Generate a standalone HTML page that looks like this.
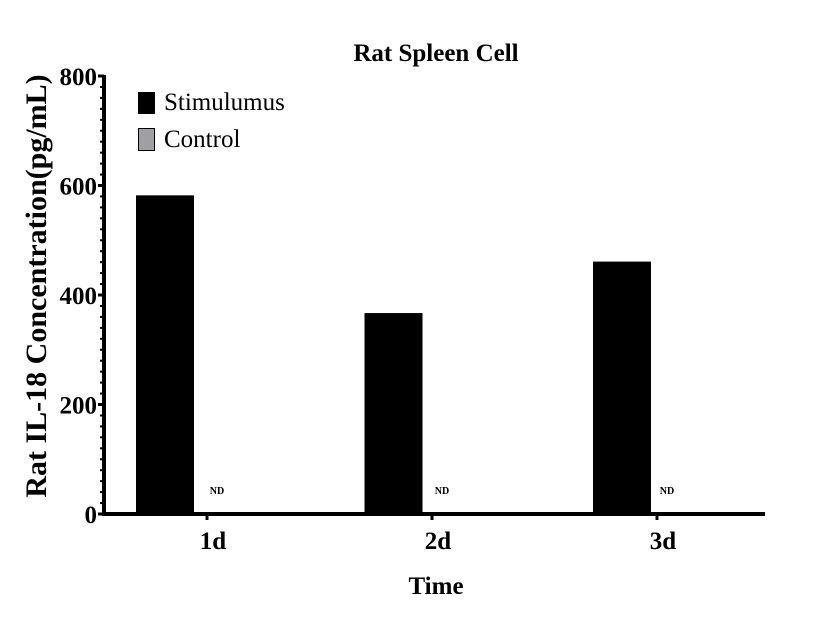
<!DOCTYPE html>
<html><head><meta charset="utf-8"><style>
body{margin:0;background:#fff;}
svg text{font-family:"Liberation Serif",serif;}
</style></head><body>
<svg width="825" height="638" xmlns="http://www.w3.org/2000/svg">
<text x="436" y="61" text-anchor="middle" font-size="25" font-weight="bold">Rat Spleen Cell</text>
<text transform="translate(46,286) rotate(-90)" text-anchor="middle" font-size="30" font-weight="bold">Rat IL-18 Concentration(pg/mL)</text>
<text x="436" y="594" text-anchor="middle" font-size="25" font-weight="bold">Time</text>
<g id="plot"></g>
<g>
<rect x="138" y="92" width="17" height="22" fill="#000"/>
<text x="164" y="110" font-size="25">Stimulumus</text>
<rect x="138.5" y="128.5" width="16" height="22" fill="#a0a0a4" stroke="#000"/>
<text x="164" y="147" font-size="25">Control</text>
</g>
</svg>
<script>
const categories = ["1d","2d","3d"];
const stimulus = [582, 367, 461];
const control = [0, 0, 0];
const yTicks = [0,200,400,600,800];
const x0=103, y0=514, yTop=76, yMax=800;
const ys = v => y0 - (v/yMax)*(y0-yTop);
const xb = i => 136 + i*228.5;
const xc = i => 209 + i*225;
const ns="http://www.w3.org/2000/svg";
const g=document.getElementById('plot');
function mk(t,a){const e=document.createElementNS(ns,t);for(const k in a)e.setAttribute(k,a[k]);g.appendChild(e);return e;}
categories.forEach((c,i)=>{
  const b=mk('rect',{x:xb(i),y:ys(stimulus[i]),width:58,height:y0-ys(stimulus[i]),fill:'#000'});
  
  
  const cb=mk('rect',{x:xb(i)+58,y:ys(control[i]),width:58,height:y0-ys(control[i]),fill:'#a0a0a4'});
  
  
  const nd=mk('text',{x:xc(i)+8,y:494,'font-size':10,'font-weight':'bold','text-anchor':'middle'});
  nd.textContent='ND';
  
  
  const tk=mk('line',{x1:xc(i)-2,x2:xc(i)-2,y1:514,y2:520,stroke:'#000','stroke-width':3});
  
  
  const tl=mk('text',{x:xc(i)+4,y:549,'font-size':25,'font-weight':'bold','text-anchor':'middle'});
  tl.textContent=c;
  
  
});
for(let v=0;v<=yMax;v+=20){
  const major=yTicks.includes(v);
  const t=mk('line',{x1:major?98:100,x2:104,y1:ys(v),y2:ys(v),stroke:'#000','stroke-width':major?3:2});
  
  
}
yTicks.forEach(v=>{
  const t=mk('text',{x:97,y:ys(v)+9,'font-size':25,'font-weight':'bold','text-anchor':'end'});
  t.textContent=v;
  
  
});
const ya=mk('line',{x1:104,x2:104,y1:ys(yMax)-1,y2:516,stroke:'#000','stroke-width':4});


const xa=mk('line',{x1:102,x2:765,y1:514,y2:514,stroke:'#000','stroke-width':4});


</script>
</body></html>
